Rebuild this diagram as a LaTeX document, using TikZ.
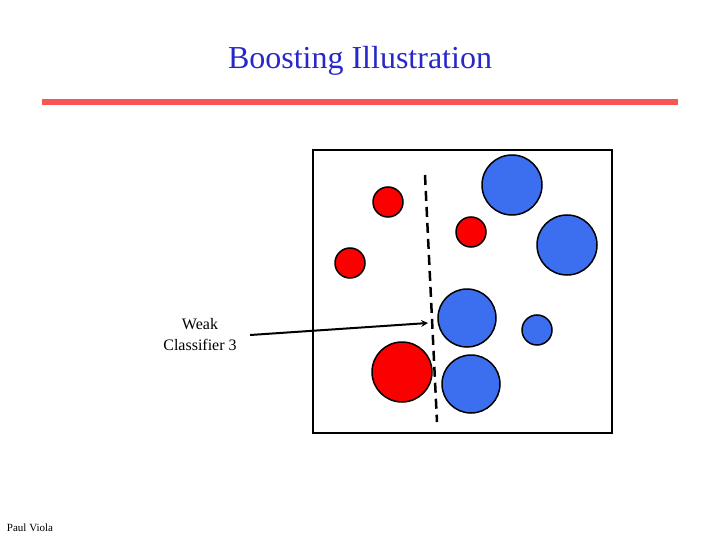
\documentclass[tikz,border=0pt]{standalone}
\usepackage{fontspec}
\setmainfont{Liberation Serif}
\definecolor{titleblue}{RGB}{40,40,200}
\definecolor{barred}{RGB}{250,85,85}
\definecolor{dotred}{RGB}{250,0,0}
\definecolor{dotblue}{RGB}{60,110,240}
\tikzset{
  reddot/.style={circle,draw=black,line width=1.5pt,fill=dotred,inner sep=0pt},
  bluedot/.style={circle,draw=black,line width=1.5pt,fill=dotblue,inner sep=0pt}
}
\begin{document}
\begin{tikzpicture}[x=1pt,y=-1pt]
      \useasboundingbox (0,0) rectangle (720,540);

      \node[text=titleblue,font=\fontsize{32}{36}\selectfont](title) at (360,61){Boosting Illustration};
      \draw[barred,line width=6pt] (42,102) -- (678,102);

      \draw[line width=2.2pt] (313,150) rectangle (612,433);

      \foreach \x/\y/\r [count=\i] in {388/202/15,471/232/15,350/263/15,402/372/30} {
        \node[reddot,minimum size=2*\r pt](r\i) at (\x,\y){};
      }
      \foreach \x/\y/\r [count=\i] in {512/185/30,567/245/30,467/318/29,537/330/15,471/384/29} {
        \node[bluedot,minimum size=2*\r pt](b\i) at (\x,\y){};
      }

      \coordinate (cut top) at (425,175);
      \coordinate (cut bot) at (437,422);
      \draw[line width=2.5pt,dash pattern=on 10pt off 6pt] (cut top) -- (cut bot);

      \node[align=center,font=\fontsize{16}{21}\selectfont](weak) at (200,335){Weak\\Classifier 3};
      \coordinate (tip) at (428,323);
      \draw[line width=2pt,-stealth] (weak.east) ++(10,0) -- (tip);

      \node[font=\fontsize{11}{12}\selectfont](author) at (30,528){Paul Viola};
\end{tikzpicture}
\end{document}
